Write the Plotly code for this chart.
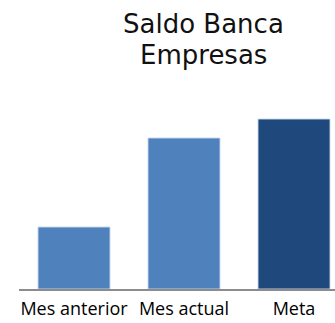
import plotly.graph_objects as go

# Saldo Banca Empresas: previous month, current month and target
categories = ["Mes anterior", "Mes actual", "Meta"]
values = [62, 151, 170]
bar_colors = ["#4F81BD", "#4F81BD", "#1F497D"]
title_lines = ["Saldo Banca", "Empresas"]

W, H = 335, 323
ML, MR, MT, MB = 19, 0, 88, 34
plot_w = W - ML - MR
plot_h = H - MT - MB
slot = 110.0  # pixel width of one category slot


def px_x(x):
    return (x - ML) / plot_w


def px_y(y):
    return (H - MB - y) / plot_h


fig = go.Figure(
    go.Bar(
        x=categories,
        y=values,
        marker=dict(color=bar_colors, line=dict(color="rgba(200,215,235,0.9)", width=1)),
        hoverinfo="skip",
    )
)

for line, y in zip(title_lines, [24.0, 55.0]):
    fig.add_annotation(
        text=line,
        xref="paper",
        yref="paper",
        x=px_x(203),
        y=px_y(y),
        xanchor="center",
        yanchor="middle",
        showarrow=False,
        font=dict(family="DejaVu Sans", size=26, color="#111111"),
    )

fig.update_layout(
    width=W,
    height=H,
    margin=dict(l=ML, r=MR, t=MT, b=MB, pad=0),
    paper_bgcolor="white",
    plot_bgcolor="white",
    showlegend=False,
    bargap=1 - 72 / slot,
    xaxis=dict(
        range=[-0.5, -0.5 + plot_w / slot],
        showline=True,
        linecolor="#8C8C8C",
        linewidth=2,
        showgrid=False,
        zeroline=False,
        ticks="",
        ticklabelstandoff=2,
        tickfont=dict(family="Open Sans", size=18, color="#000000"),
        fixedrange=True,
    ),
    yaxis=dict(
        range=[0, plot_h],
        visible=False,
        showgrid=False,
        zeroline=False,
        fixedrange=True,
    ),
)

fig.write_html("out.html", config={"displayModeBar": False})
